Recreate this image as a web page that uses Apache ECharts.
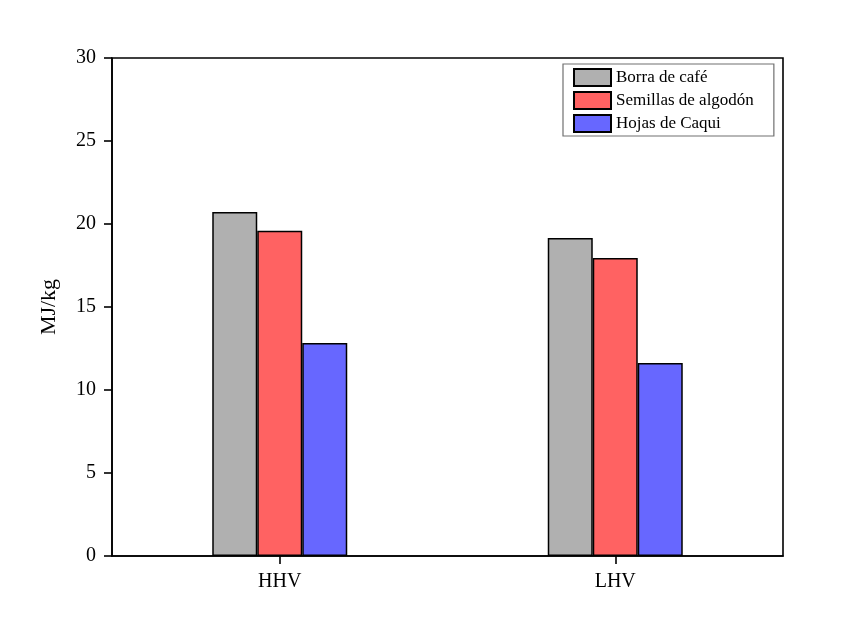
<!DOCTYPE html>
<html>
<head>
<meta charset="utf-8">
<script src="https://cdn.jsdelivr.net/npm/echarts@6/dist/echarts.min.js"></script>
<style>
  html, body { margin: 0; padding: 0; background: #fff; }
  #chart { width: 850px; height: 624px; }
</style>
</head>
<body>
<div id="chart"></div>
<script>
// Heating values of three biomass feedstocks
const categories = ['HHV', 'LHV'];
const seriesNames = ['Borra de café', 'Semillas de algodón', 'Hojas de Caqui'];
const borraCafe = [20.72, 19.16];
const semillasAlgodon = [19.6, 17.95];
const hojasCaqui = [12.83, 11.63];
const yTicks = { min: 0, max: 30, interval: 5 };

const fillColors = ['#b0b0b0', '#ff6262', '#6767ff'];
const serif = 'Liberation Serif, Times New Roman, serif';

const chart = echarts.init(document.getElementById('chart'));
const values = [borraCafe, semillasAlgodon, hojasCaqui];

chart.setOption({
  animation: false,
  backgroundColor: '#fff',
  grid: {
    left: 112, right: 67, top: 58, bottom: 68,
    show: true, borderColor: '#000', borderWidth: 1.6, backgroundColor: 'transparent'
  },
  legend: {
    orient: 'vertical',
    left: 563, top: 64,
    width: 210,
    padding: [4, 20, 3, 10],
    itemWidth: 37, itemHeight: 17, itemGap: 4,
    borderColor: '#707070', borderWidth: 1.2,
    icon: 'rect',
    textStyle: { fontFamily: serif, fontSize: 17, color: '#000', padding: [0, 0, 0, 0] },
    data: seriesNames
  },
  xAxis: {
    type: 'category',
    data: categories,
    axisLine: { lineStyle: { color: '#000', width: 1.6 } },
    axisTick: { show: true, alignWithLabel: true, length: 8, lineStyle: { color: '#000', width: 1.6 } },
    axisLabel: { fontFamily: serif, fontSize: 20, color: '#000', margin: 16 }
  },
  yAxis: {
    type: 'value',
    min: yTicks.min, max: yTicks.max, interval: yTicks.interval,
    name: 'MJ/kg',
    nameLocation: 'middle',
    nameGap: 52,
    nameTextStyle: { fontFamily: serif, fontSize: 22, color: '#000' },
    splitLine: { show: false },
    axisLine: { show: true, lineStyle: { color: '#000', width: 1.6 } },
    axisTick: { show: true, length: 8, lineStyle: { color: '#000', width: 1.6 } },
    axisLabel: { fontFamily: serif, fontSize: 20, color: '#000', margin: 16 }
  },
  series: seriesNames.map((name, i) => ({
    name,
    type: 'bar',
    data: values[i],
    barWidth: 45,
    barGap: '0%',
    itemStyle: { color: fillColors[i], borderColor: '#000', borderWidth: 1.5 }
  }))
});
</script>
</body>
</html>
